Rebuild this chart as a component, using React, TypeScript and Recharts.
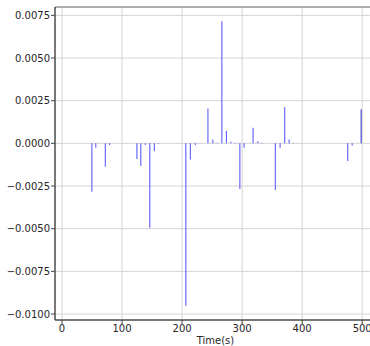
import React from 'react';
import { ComposedChart, Bar, XAxis, YAxis, CartesianGrid, ReferenceArea, Cell } from 'recharts';

const times = [50.5, 57, 72.8, 80, 125.5, 132, 139.5, 147, 154.5, 161, 207, 214.5, 222.8, 243.8, 252, 259.5, 267, 274.5, 282, 289, 297, 304, 319, 327, 334, 356, 364, 371.7, 379, 386, 476.7, 484, 499];
const values = [-0.00283, -0.00026, -0.00137, -0.0001, -0.00092, -0.00133, -0.0001, -0.00494, -0.00045, -0.00002, -0.00952, -0.00094, -0.0001, 0.00205, 0.00023, 0.00003, 0.00716, 0.00072, 0.0001, 0.00004, -0.00268, -0.00026, 0.00091, 0.00013, 0.00004, -0.00273, -0.00026, 0.00212, 0.00023, 0.00004, -0.00104, -0.00012, 0.002];
const darkTimes = [499];
const xTicks = [0, 100, 200, 300, 400, 500];
const yTicks = [-0.01, -0.0075, -0.005, -0.0025, 0, 0.0025, 0.005, 0.0075];
const xDomain = [-11.7, 523];
const yDomain = [-0.01035, 0.00799];

const data = times.map((t, i) => ({ t, v: values[i] }));

const fmtY = (v: number) => (v < 0 ? '\u2212' : '') + Math.abs(v).toFixed(4);
const font = 'DejaVu Sans';

export default function App() {
  return (
    <div style={{ position: 'absolute', left: 0, top: 0, width: 370, height: 346, overflow: 'hidden', background: '#fff' }}>
      <ComposedChart width={380} height={346} data={data} margin={{ top: 7, right: 4, bottom: 0, left: 0 }}>
        <CartesianGrid stroke="#d4d4d4" strokeWidth={1} />
        <XAxis
          type="number"
          dataKey="t"
          domain={xDomain}
          ticks={xTicks}
          allowDataOverflow
          height={26}
          tickSize={4}
          tickMargin={1}
          stroke="#444"
          tick={{ fill: '#262626', fontSize: 10, fontFamily: font }}
          label={{ value: 'Time(s)', position: 'insideBottom', offset: 2, fill: '#262626', fontSize: 10, fontFamily: font }}
        />
        <YAxis
          type="number"
          domain={yDomain}
          ticks={yTicks}
          allowDataOverflow
          width={55}
          tickSize={4}
          tickMargin={1}
          stroke="#444"
          tickFormatter={fmtY}
          tick={{ fill: '#262626', fontSize: 10, fontFamily: font }}
        />
        <ReferenceArea x1={xDomain[0]} x2={xDomain[1]} y1={yDomain[0]} y2={yDomain[1]} fill="none" stroke="#707070" strokeWidth={1} ifOverflow="visible" />
        <Bar dataKey="v" barSize={1} isAnimationActive={false}>
          {data.map((d, i) => (
            <Cell key={i} fill={darkTimes.includes(d.t) ? '#2a2ac8' : '#4d4dff'} />
          ))}
        </Bar>
      </ComposedChart>
    </div>
  );
}
